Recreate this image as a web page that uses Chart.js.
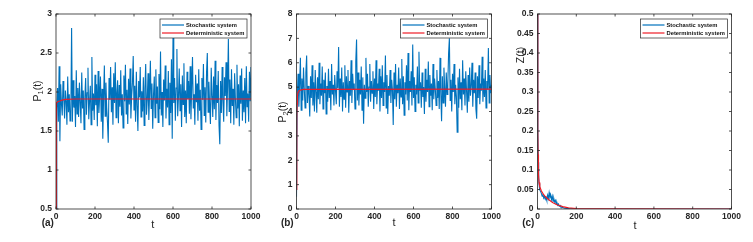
<!DOCTYPE html>
<html>
<head>
<meta charset="utf-8">
<script src="https://cdn.jsdelivr.net/npm/chart.js@4/dist/chart.umd.min.js"></script>
<style>
  html, body { margin: 0; padding: 0; background: #fff; }
  #wrap { position: relative; width: 753px; height: 242px; overflow: hidden; }
  canvas { position: absolute; left: 0; top: 0; }
</style>
</head>
<body>
<div id="wrap">
  <canvas id="ca" width="753" height="242"></canvas>
  <canvas id="cb" width="753" height="242"></canvas>
  <canvas id="cc" width="753" height="242"></canvas>
</div>
<script>
// ---------- data ----------
const xTicks = [0, 200, 400, 600, 800, 1000];
const legendLabels = ["Stochastic system", "Deterministic system"];
const panelLabels = ["(a)", "(b)", "(c)"];

// stochastic sampling grid (every 4 time units)
const stochStep = 4;

// (a) P1(t) stochastic
const stochP1 = [0.5,
  1.78, 2.05, 1.62, 2.33, 1.37, 2.10, 1.85, 1.70, 2.14, 1.93,
  1.66, 2.02, 1.88, 1.58, 2.20, 1.74, 1.97, 1.63, 1.70, 2.82,
  1.62, 2.15, 1.80, 1.95, 1.55, 2.28, 1.72, 2.05, 1.68, 2.12,
  1.87, 1.60, 2.25, 1.79, 2.02, 1.52, 1.94, 2.18, 1.71, 1.99,
  2.31, 1.65, 1.88, 2.08, 1.58, 2.45, 1.76, 1.98, 1.64, 2.22,
  1.83, 2.10, 1.56, 2.27, 1.73, 1.95, 2.20, 1.62, 2.04, 1.40,
  1.92, 2.34, 1.69, 2.12, 1.80, 1.61, 1.35, 2.18, 1.90, 2.32,
  1.74, 2.06, 1.58, 2.24, 1.86, 2.38, 1.67, 1.99, 2.15, 1.60,
  2.09, 1.81, 2.28, 1.70, 1.97, 1.54, 2.21, 1.88, 2.35, 1.72,
  2.03, 1.59, 2.17, 1.84, 2.30, 1.66, 1.95, 2.12, 2.46, 1.77,
  2.08, 1.62, 2.26, 1.82, 1.50, 2.14, 1.93, 2.32, 1.68, 2.01,
  1.75, 2.19, 1.57, 2.05, 2.36, 1.71, 1.90, 2.24, 1.64, 1.98,
  2.40, 1.79, 2.11, 1.53, 1.96, 2.20, 1.67, 2.29, 1.85, 2.07,
  1.61, 2.23, 1.78, 2.52, 1.70, 2.00, 1.55, 2.16, 1.89, 2.34,
  1.66, 2.04, 1.80, 2.27, 1.58, 2.12, 1.73, 2.42, 1.40, 2.70,
  1.86, 2.18, 1.63, 2.05, 2.55, 1.69, 1.94, 2.30, 1.76, 2.10,
  1.55, 2.21, 1.84, 2.37, 1.68, 2.02, 1.60, 2.26, 1.91, 2.14,
  1.72, 2.33, 1.65, 2.08, 2.45, 1.79, 1.97, 1.58, 2.22, 1.87,
  2.11, 1.63, 2.29, 1.76, 2.03, 1.52, 2.18, 1.90, 2.36, 1.70,
  2.06, 1.61, 2.25, 2.50, 1.74, 2.13, 1.83, 1.59, 2.31, 1.95,
  1.68, 2.20, 1.78, 2.40, 1.64, 2.09, 1.86, 2.27, 1.57, 1.33,
  2.14, 1.73, 2.32, 1.88, 1.62, 2.19, 1.95, 2.38, 1.69, 2.07,
  2.68, 1.75, 2.16, 1.60, 2.29, 1.82, 2.04, 1.58, 2.24, 1.91,
  1.67, 2.35, 1.79, 2.10, 1.56, 2.21, 1.85, 2.30, 1.63, 2.02,
  1.74, 2.18, 1.60, 2.33, 1.81, 1.98, 1.62, 2.26, 1.88, 2.32];

// (a) P1(t) deterministic
const detTimeA = [0, 0.5, 1, 2, 3, 5, 8, 12, 20, 30, 50, 100, 1000];
const detP1 = [0.5, 1.05, 1.4, 1.7, 1.8, 1.86, 1.872, 1.88, 1.885, 1.895, 1.905, 1.91, 1.91];

// (b) P2(t) stochastic
const stochP2 = [0.5,
  4.60, 5.55, 4.20, 5.10, 6.20, 4.05, 5.35, 4.45, 5.80, 4.90,
  4.15, 5.60, 6.30, 4.35, 5.05, 4.70, 3.80, 5.45, 4.55, 5.90,
  4.25, 5.20, 4.00, 5.70, 4.80, 3.95, 5.40, 4.50, 6.00, 4.30,
  5.15, 4.65, 5.85, 4.10, 5.30, 4.75, 5.60, 3.90, 5.05, 4.40,
  5.75, 4.55, 5.25, 4.05, 5.95, 4.70, 5.10, 4.25, 5.50, 4.85,
  4.30, 5.65, 4.95, 6.65, 4.20, 5.35, 4.60, 5.80, 4.00, 5.20,
  4.50, 5.90, 4.15, 5.45, 4.80, 5.70, 3.95, 5.25, 4.65, 6.10,
  4.35, 5.55, 4.90, 5.15, 4.10, 6.05, 6.95, 4.45, 5.60, 4.25,
  5.30, 4.70, 5.85, 4.05, 5.40, 3.50, 5.10, 4.55, 6.20, 4.80,
  5.55, 4.20, 5.00, 5.95, 4.40, 5.25, 4.75, 5.65, 4.10, 5.35,
  4.60, 6.10, 4.30, 5.15, 4.85, 5.75, 4.00, 5.45, 4.55, 5.90,
  4.25, 5.20, 4.80, 6.30, 4.15, 5.50, 3.90, 5.05, 4.65, 5.70,
  4.35, 5.30, 4.90, 3.45, 5.60, 4.50, 5.95, 4.20, 5.10, 4.75,
  5.80, 4.10, 5.35, 4.60, 6.15, 4.30, 5.45, 3.85, 5.20, 4.70,
  5.90, 4.45, 6.40, 4.05, 5.25, 4.80, 5.65, 4.25, 6.75, 4.55,
  5.40, 4.00, 5.10, 4.70, 5.85, 4.35, 6.45, 4.85, 5.20, 4.15,
  5.60, 4.60, 5.00, 3.90, 5.75, 4.40, 5.30, 4.80, 6.05, 4.20,
  5.50, 4.65, 5.15, 4.05, 5.95, 4.50, 5.35, 4.90, 4.25, 5.70,
  4.55, 5.25, 4.10, 6.20, 4.75, 3.60, 5.45, 4.35, 5.80, 4.95,
  4.20, 5.60, 4.70, 5.15, 6.40, 7.00, 4.45, 5.30, 4.00, 5.55,
  4.80, 5.95, 4.30, 5.10, 4.60, 3.15, 5.40, 4.15, 5.75, 4.50,
  5.20, 4.05, 6.10, 4.70, 5.35, 4.25, 5.65, 4.85, 3.95, 5.50,
  4.40, 5.80, 4.65, 5.05, 6.00, 4.20, 5.30, 4.75, 5.60, 4.10,
  3.70, 5.45, 4.55, 5.90, 4.30, 5.15, 4.85, 6.25, 4.40, 5.35,
  4.60, 5.70, 4.15, 5.25, 4.90, 6.60, 4.35, 5.50, 4.75, 5.10];

// (b) P2(t) deterministic
const detTimeB = [0, 1, 2, 3, 5, 8, 12, 20, 35, 1000];
const detP2 = [0.8, 2.6, 3.7, 4.3, 4.65, 4.8, 4.85, 4.88, 4.91, 4.92];

// (c) Z(t) stochastic
const stochTimeC = [0, 2, 4, 6, 8, 10, 12, 16, 20, 24, 28, 32, 36, 40, 44, 48, 52, 56, 60, 64,
  68, 72, 76, 80, 84, 88, 92, 96, 100, 104, 108, 112, 116, 120, 130, 140, 150, 170, 200, 250, 300, 1000];
const stochZ = [0.5, 0.2, 0.12, 0.08, 0.065, 0.058, 0.05, 0.045, 0.04, 0.033, 0.038, 0.028, 0.032, 0.025,
  0.03, 0.022, 0.035, 0.027, 0.042, 0.03, 0.036, 0.024, 0.033, 0.02, 0.027, 0.018, 0.022, 0.013, 0.017,
  0.01, 0.013, 0.007, 0.009, 0.005, 0.004, 0.002, 0.0015, 0.0008, 0.0003, 0.0001, 0, 0];

// (c) Z(t) deterministic
const detTimeC = [0, 1, 2, 3, 5, 8, 12, 20, 30, 40, 60, 80, 100, 130, 160, 200, 250, 300, 1000];
const detZ = [0.5, 0.3, 0.2, 0.14, 0.09, 0.068, 0.057, 0.046, 0.038, 0.032, 0.023, 0.016, 0.011, 0.006,
  0.003, 0.0012, 0.0004, 0.0001, 0];

// ---------- helpers ----------
const BLUE = '#0072BD';
const RED = '#EE1C25';
const INK = '#262626';
const FONT = 'Liberation Sans, Arial, sans-serif';

function pts(xs, ys) { return ys.map((y, i) => ({ x: xs[i], y: y })); }
function gridTimes(n) { return Array.from({ length: n }, (_, i) => i * stochStep); }

const boxPlugin = {
  id: 'matlabBox',
  afterDraw(chart, args, o) {
    const ctx = chart.ctx;
    const a = chart.chartArea;
    const xs = chart.scales.x, ys = chart.scales.y;
    ctx.save();
    ctx.strokeStyle = INK;
    ctx.lineWidth = 0.8;
    ctx.strokeRect(a.left, a.top, a.right - a.left, a.bottom - a.top);
    // inward tick marks
    const tl = 2.5;
    ctx.beginPath();
    xs.ticks.forEach(t => {
      const px = xs.getPixelForValue(t.value);
      ctx.moveTo(px, a.bottom); ctx.lineTo(px, a.bottom - tl);
      ctx.moveTo(px, a.top); ctx.lineTo(px, a.top + tl);
    });
    ys.ticks.forEach(t => {
      const py = ys.getPixelForValue(t.value);
      ctx.moveTo(a.left, py); ctx.lineTo(a.left + tl, py);
      ctx.moveTo(a.right, py); ctx.lineTo(a.right - tl, py);
    });
    ctx.stroke();

    // legend box
    const lx = a.right - 91, ly = a.top + 5, lw = 87, lh = 19;
    ctx.fillStyle = '#fff';
    ctx.fillRect(lx, ly, lw, lh);
    ctx.strokeStyle = INK;
    ctx.lineWidth = 0.7;
    ctx.strokeRect(lx, ly, lw, lh);
    const cols = [BLUE, RED];
    ctx.font = 'bold 5.8px ' + FONT;
    ctx.textBaseline = 'middle';
    ctx.textAlign = 'left';
    legendLabels.forEach((lab, i) => {
      const yy = ly + 6 + i * 8;
      ctx.strokeStyle = cols[i];
      ctx.lineWidth = 1.2;
      ctx.beginPath(); ctx.moveTo(lx + 2, yy); ctx.lineTo(lx + 24, yy); ctx.stroke();
      ctx.fillStyle = '#111';
      ctx.fillText(lab, lx + 26, yy + 0.3);
    });

    // x axis title
    ctx.fillStyle = INK;
    ctx.font = '11px ' + FONT;
    ctx.textAlign = 'center';
    ctx.textBaseline = 'middle';
    ctx.fillText('t', o.tx, o.ty);

    // panel label
    ctx.font = 'bold 10px ' + FONT;
    ctx.fillText(o.panel, o.px, o.py);

    // y axis title (rotated, with optional subscript)
    ctx.translate(o.yx, o.yy);
    ctx.rotate(-Math.PI / 2);
    ctx.textAlign = 'left';
    ctx.textBaseline = 'alphabetic';
    const big = '10.5px ' + FONT, small = '7.5px ' + FONT;
    ctx.font = big;
    let w = ctx.measureText(o.ymain).width + ctx.measureText(o.yrest).width;
    ctx.font = small;
    const ws = o.ysub ? ctx.measureText(o.ysub).width : 0;
    w += ws;
    let cx = -w / 2;
    ctx.font = big;
    ctx.fillText(o.ymain, cx, 0); cx += ctx.measureText(o.ymain).width;
    if (o.ysub) { ctx.font = small; ctx.fillText(o.ysub, cx, 2.5); cx += ws; ctx.font = big; }
    ctx.fillText(o.yrest, cx, 0);
    ctx.restore();
  }
};

function makeChart(id, area, yOpts, stochData, detData, deco) {
  const yw = 30, xh = 20;
  return new Chart(document.getElementById(id), {
    type: 'line',
    data: {
      datasets: [
        { label: legendLabels[1], data: detData, borderColor: RED, borderWidth: 1.2, pointRadius: 0, tension: 0 },
        { label: legendLabels[0], data: stochData, borderColor: BLUE, borderWidth: 1.1, pointRadius: 0, tension: 0 }
      ]
    },
    options: {
      responsive: false,
      devicePixelRatio: 1,
      animation: false,
      events: [],
      layout: { padding: { left: area.L - yw, right: 753 - area.R, top: area.T, bottom: 242 - area.B - xh } },
      plugins: { legend: { display: false }, tooltip: { enabled: false }, matlabBox: deco },
      scales: {
        x: {
          type: 'linear', min: 0, max: 1000,
          afterBuildTicks: s => { s.ticks = xTicks.map(v => ({ value: v })); },
          grid: { display: false, drawTicks: false, tickLength: 0 }, border: { display: false },
          ticks: { color: INK, font: { family: FONT, size: 8.5, weight: 'bold' }, padding: 3, maxRotation: 0, autoSkip: false,
                   callback: v => String(v) },
          afterFit: s => { s.height = xh; }
        },
        y: Object.assign({
          type: 'linear',
          grid: { display: false, drawTicks: false, tickLength: 0 }, border: { display: false },
          afterFit: s => { s.width = yw; }
        }, yOpts)
      }
    },
    plugins: [boxPlugin]
  });
}

function yTickOpts(min, max, step) {
  return {
    min: min, max: max,
    ticks: {
      stepSize: step, color: INK, padding: 4, autoSkip: false,
      font: { family: FONT, size: 8.5, weight: 'bold' },
      callback: v => String(Number(v.toFixed(2)))
    }
  };
}

makeChart('ca', { L: 56, R: 251, T: 14, B: 209 }, yTickOpts(0.5, 3, 0.5),
  pts(gridTimes(stochP1.length), stochP1), pts(detTimeA, detP1),
  { tx: 152.7, ty: 225, panel: panelLabels[0], px: 47.8, py: 223, yx: 40.5, yy: 91, ymain: 'P', ysub: '1', yrest: '(t)' });

makeChart('cb', { L: 296.5, R: 491.5, T: 14, B: 209 }, yTickOpts(0, 8, 1),
  pts(gridTimes(stochP2.length), stochP2), pts(detTimeB, detP2),
  { tx: 394, ty: 223, panel: panelLabels[1], px: 287.3, py: 223, yx: 285.5, yy: 112, ymain: 'P', ysub: '2', yrest: '(t)' });

makeChart('cc', { L: 537.5, R: 731.5, T: 14, B: 209 }, yTickOpts(0, 0.5, 0.05),
  pts(stochTimeC, stochZ), pts(detTimeC, detZ),
  { tx: 635, ty: 226, panel: panelLabels[2], px: 528.3, py: 223, yx: 523.5, yy: 55, ymain: 'Z', ysub: '', yrest: '(t)' });
</script>
</body>
</html>
